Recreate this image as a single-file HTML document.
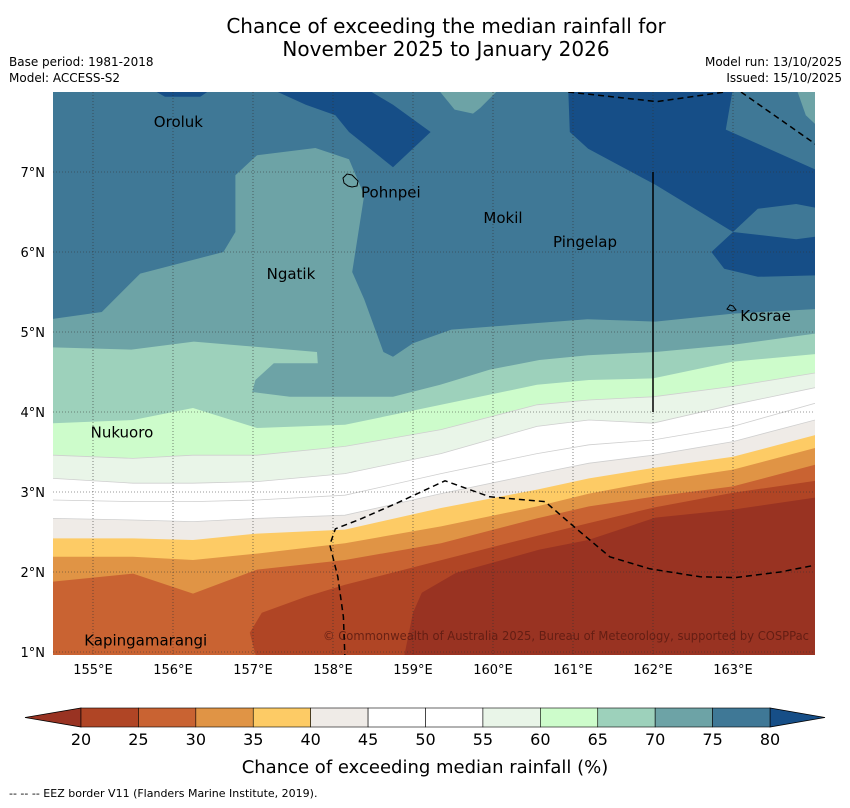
<!DOCTYPE html>
<html><head><meta charset="utf-8"><style>
body{margin:0;background:#fff;width:850px;height:804px;overflow:hidden;font-family:"DejaVu Sans","Liberation Sans",sans-serif}
</style></head><body>
<svg id="s" width="850" height="804" viewBox="0 0 850 804" xmlns="http://www.w3.org/2000/svg" font-family="DejaVu Sans, Liberation Sans, sans-serif">
<text x="446" y="33" font-size="20" text-anchor="middle">Chance of exceeding the median rainfall for</text>
<text x="446" y="56" font-size="20" text-anchor="middle">November 2025 to January 2026</text>
<text x="9" y="66" font-size="12">Base period: 1981-2018</text>
<text x="9" y="82" font-size="12">Model: ACCESS-S2</text>
<text x="842" y="66" font-size="12" text-anchor="end">Model run: 13/10/2025</text>
<text x="842" y="82" font-size="12" text-anchor="end">Issued: 15/10/2025</text>
<defs><clipPath id="mc"><rect x="53" y="92" width="762" height="563"/></clipPath></defs>
<g id="map" clip-path="url(#mc)"></g>
<g id="axes"></g>
<g id="cbar"></g>
<text x="425" y="773" font-size="18" text-anchor="middle">Chance of exceeding median rainfall (%)</text>
<text x="9" y="797" font-size="11">--  --  -- EEZ border V11 (Flanders Marine Institute, 2019).</text>
</svg>
<script>
const lons=[154.5,155.5,156.25,157.05,158.15,159.35,160.55,161.2,162.0,163.0,164.1];
const b65=[3.86,3.9,4.05,3.80,3.84,4.09,4.34,4.4,4.42,4.63,4.73];
const b60=[3.46,3.42,3.46,3.46,3.57,3.78,4.09,4.15,4.19,4.32,4.5];
const b55=[3.17,3.11,3.11,3.13,3.23,3.48,3.82,3.9,3.86,4.09,4.32];
const b50=[2.9,2.88,2.88,2.9,2.96,3.23,3.48,3.59,3.65,3.82,4.13];
const b45=[2.67,2.65,2.63,2.67,2.71,2.98,3.23,3.36,3.46,3.63,3.92];
const b40=[2.42,2.42,2.4,2.48,2.53,2.8,3.03,3.17,3.3,3.44,3.73];
const b35=[2.19,2.19,2.15,2.23,2.36,2.57,2.82,2.98,3.13,3.28,3.57];
const b30=[1.88,1.98,1.73,2.03,2.15,2.36,2.67,2.82,2.94,3.07,3.36];
const b75=[[154.4,5.15],[155.11,5.25],[155.59,5.73],[156.63,6.0],[156.78,6.25],[156.78,6.96],[157.05,7.21],[157.78,7.3],[158.2,7.16],[158.39,6.71],[158.24,5.75],[158.39,5.41],[158.63,4.75],[158.75,4.69],[159.0,4.86],[159.48,5.03],[161.18,5.16],[162.03,5.13],[163.0,5.23],[164.1,5.29]];
const b70=[[154.4,4.81],[155.48,4.78],[156.26,4.88],[157.8,4.75],[157.81,4.61],[157.26,4.61],[157.03,4.4],[156.99,4.25],[157.46,4.19],[158.75,4.19],[159.34,4.34],[159.96,4.53],[160.58,4.65],[161.19,4.71],[162.03,4.75],[163.0,4.84],[164.1,4.99]];
const b25=[[157.05,0.9],[156.96,1.24],[157.11,1.49],[157.66,1.69],[158.15,1.84],[159.36,2.15],[160.58,2.46],[161.19,2.61],[162.03,2.81],[163.0,2.99],[164.1,3.15]];
const b20=[[158.88,0.9],[159.0,1.49],[159.11,1.74],[159.54,1.99],[160.58,2.28],[161.19,2.4],[162.03,2.68],[163.0,2.78],[164.1,2.94]];
const darkBlobs=[
 [[155.71,8.05],[156.5,8.05],[156.34,7.94],[155.9,7.94]],
 [[157.2,8.05],[158.4,8.05],[158.75,7.84],[159.22,7.5],[158.75,7.06],[158.2,7.5],[158.03,7.71],[157.66,7.84]],
 [[160.94,8.05],[163.0,8.05],[162.91,7.53],[164.1,7.0],[164.1,6.54],[163.79,6.6],[163.31,6.54],[163.0,6.25],[162.03,6.84],[161.19,7.29],[160.96,7.5]],
 [[162.73,6.0],[163.0,6.25],[163.79,6.16],[164.1,6.2],[164.1,5.71],[163.31,5.69],[162.89,5.79]]];
const lightBlobs=[
 [[159.3,8.05],[160.09,8.05],[159.84,7.8],[159.75,7.73],[159.52,7.78]],
 [[163.79,8.05],[164.1,8.05],[164.1,7.53],[163.91,7.71]]];
const eez1=[[158.15,0.9],[158.13,1.44],[158.06,1.94],[157.96,2.34],[158.03,2.54],[158.34,2.66],[158.84,2.88],[159.4,3.14],[159.96,2.94],[160.65,2.88],[161.02,2.56],[161.46,2.19],[161.96,2.04],[162.59,1.94],[163.03,1.93],[163.59,2.0],[164.1,2.1]];
const eez2=[[160.94,8.0],[162.05,7.88],[162.9,8.0]];
const eez3=[[163.1,8.0],[164.1,7.3]];
const cbLevels=[20,25,30,35,40,45,50,55,60,65,70,75,80];
const cbColors=["#b04525","#c96332","#e09445","#fdcb65","#efebe7","#ffffff","#ffffff","#e9f5e8","#cdfccb","#9dd1bb","#6da3a6","#3f7896"];
const places=[["Oroluk",155.76,7.56],["Pohnpei",158.35,6.68],["Mokil",159.88,6.36],["Pingelap",160.75,6.06],["Ngatik",157.17,5.66],["Kosrae",163.09,5.14],["Nukuoro",154.97,3.68],["Kapingamarangi",154.89,1.08]];
const lonTicks=[155,156,157,158,159,160,161,162,163];
const latTicks=[1,2,3,4,5,6,7];

const NS="http://www.w3.org/2000/svg";
const X=lon=>53+(lon-154.5)*80, Y=lat=>92+(8-lat)*80;
const map=document.getElementById('map');
function mk(tag,attrs,parent){const e=document.createElementNS(NS,tag);for(const k in attrs)e.setAttribute(k,attrs[k]);parent.appendChild(e);return e;}
function ptsStr(p){return p.map(q=>X(q[0]).toFixed(1)+","+Y(q[1]).toFixed(1)).join(" ");}
function zipCols(arr){return lons.map((l,i)=>[l,arr[i]]);}
function below(pts){const a=pts.slice();a.push([pts[pts.length-1][0],0.5]);a.push([pts[0][0],0.5]);return a;}

let bg=mk('rect',{x:53,y:92,width:762,height:563,fill:"#3f7896"},map);


darkBlobs.forEach(b=>{const p=mk('polygon',{points:ptsStr(b),fill:"#164e87"},map);

});
lightBlobs.forEach(b=>{const p=mk('polygon',{points:ptsStr(b),fill:"#6da3a6"},map);

});
const layers=[[b75,"#6da3a6","band-70-75",null],[b70,"#9dd1bb","band-65-70",null],[zipCols(b65),"#cdfccb","band-60-65",null],[zipCols(b60),"#e9f5e8","band-55-60","#cfcfcf"],[zipCols(b55),"#ffffff","band-50-55","#cfcfcf"],[zipCols(b50),"#ffffff","band-45-50","#cfcfcf"],[zipCols(b45),"#efebe7","band-40-45","#cfcfcf"],[zipCols(b40),"#fdcb65","band-35-40",null],[zipCols(b35),"#e09445","band-30-35",null],[zipCols(b30),"#c96332","band-25-30",null],[b25,"#b04525","band-20-25",null],[b20,"#993322","band-below-20",null]];
layers.forEach(L=>{const p=mk('polygon',{points:ptsStr(below(L[0])),fill:L[1]},map);


if(L[3]){const l=mk('polyline',{points:ptsStr(L[0]),fill:"none",stroke:L[3],"stroke-width":0.8},map);

}});
lonTicks.forEach(t=>{const l=mk('line',{x1:X(t),x2:X(t),y1:92,y2:655,stroke:"#333","stroke-width":0.6,"stroke-dasharray":"1,2"},map);

});
latTicks.forEach(t=>{const l=mk('line',{x1:53,x2:815,y1:Y(t),y2:Y(t),stroke:"#333","stroke-width":0.6,"stroke-dasharray":"1,2"},map);

});
[eez1,eez2,eez3].forEach(e=>{const l=mk('polyline',{points:ptsStr(e),fill:"none",stroke:"#000","stroke-width":1.5,"stroke-dasharray":"6,4"},map);

});
let vl=mk('line',{x1:X(162),x2:X(162),y1:Y(7),y2:Y(4),stroke:"#000","stroke-width":1.5},map);


let pi=mk('path',{d:"M343,178 l4,-4 l5,1 l3,3 l3,3 l-1,5 l-5,1 l-4,-1 l-4,-3z",fill:"none",stroke:"#000","stroke-width":1},map);


let ki=mk('path',{d:"M727,309 l3,-4 l3,1 l3,4 l-4,1z",fill:"none",stroke:"#000","stroke-width":1},map);


places.forEach(p=>{const t=mk('text',{x:X(p[1]),y:Y(p[2]),"font-size":15,fill:"#000"},map);t.textContent=p[0];

});
let cp=mk('text',{x:323,y:640,"font-size":12,textLength:486,lengthAdjust:"spacingAndGlyphs",fill:"#5a1a10","fill-opacity":0.85},map);
cp.textContent="© Commonwealth of Australia 2025, Bureau of Meteorology, supported by COSPPac";


const ax=document.getElementById('axes');
lonTicks.forEach(t=>{const e=mk('text',{x:X(t),y:674,"font-size":13,"text-anchor":"middle"},ax);e.textContent=t+"°E";

});
latTicks.forEach(t=>{const e=mk('text',{x:45,y:Y(t)+5,"font-size":13,"text-anchor":"end"},ax);e.textContent=t+"°N";

});
const cb=document.getElementById('cbar');
const cx0=81,cx1=770,cy=708,ch=19;
const CX=v=>cx0+(v-20)/60*(cx1-cx0);
let la=mk('polygon',{points:`${cx0},${cy} ${cx0},${cy+ch} 25,${cy+ch/2}`,fill:"#993322",stroke:"#000","stroke-width":0.8},cb);


let ra=mk('polygon',{points:`${cx1},${cy} ${cx1},${cy+ch} 825,${cy+ch/2}`,fill:"#164e87",stroke:"#000","stroke-width":0.8},cb);


cbColors.forEach((c,i)=>{const r=mk('rect',{x:CX(cbLevels[i]),y:cy,width:CX(cbLevels[i+1])-CX(cbLevels[i]),height:ch,fill:c,stroke:"#000","stroke-width":0.6},cb);

});
cbLevels.forEach(v=>{const t=mk('text',{x:CX(v),y:745,"font-size":16,"text-anchor":"middle"},cb);t.textContent=v;

});
</script>
</body></html>
